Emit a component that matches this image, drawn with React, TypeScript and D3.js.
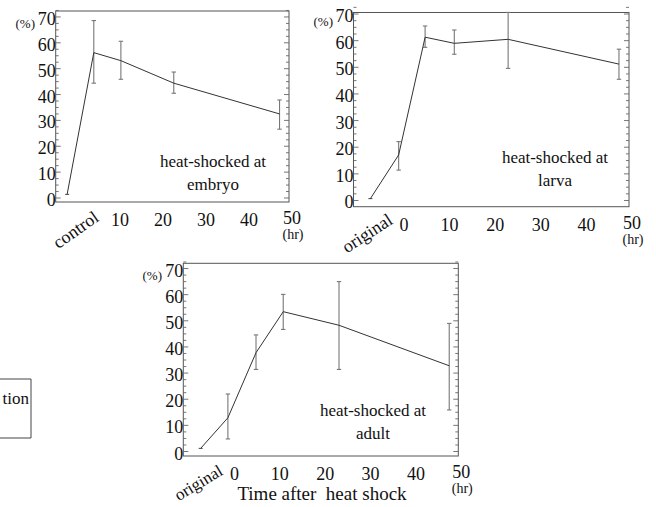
import React from 'react';
import * as d3 from 'd3';

// ---- data ----
const embryoTimes = [-1.6, 4.6, 10.9, 23.2, 47.8];
const embryoMeans = [1.4, 56.2, 53.1, 44.4, 32.5];
const embryoUpper = [NaN, 68.6, 60.6, 48.7, 37.9];
const embryoLower = [NaN, 44.4, 45.9, 40.5, 26.6];

const larvaTimes = [-6.7, -0.5, 5.3, 11.7, 23.5, 47.8];
const larvaMeans = [0.7, 17.1, 61.3, 59.0, 60.5, 51.2];
const larvaUpper = [NaN, 22.1, 65.5, 64.0, 70.6, 56.8];
const larvaLower = [NaN, 11.4, 57.5, 54.9, 49.6, 45.5];

const adultTimes = [-6.8, -0.8, 5.4, 11.4, 23.7, 48.0];
const adultMeans = [1.2, 12.9, 37.8, 53.5, 48.3, 32.8];
const adultUpper = [NaN, 22.0, 44.6, 60.1, 65.0, 49.0];
const adultLower = [NaN, 4.8, 31.4, 46.7, 31.4, 15.9];

const yTickValues = [0, 10, 20, 30, 40, 50, 60, 70];
const embryoXTicks = [10, 20, 30, 40, 50];
const stageXTicks = [0, 10, 20, 30, 40, 50];

const FONT = '"Liberation Serif", "Times New Roman", serif';

type PanelProps = {
  times: number[];
  means: number[];
  upper: number[];
  lower: number[];
  xTicks: number[];
  xDomain: [number, number];
  yDomain: [number, number];
  left: number;
  right: number;
  top: number;
  bottom: number;
  stageLabel: string;
  firstLabel: string;
  firstLabelPos: [number, number];
  firstLabelAngle: number;
  firstLabelSize: number;
  stageText: string;
  stageX: number;
  stageY: number;
  pctX: number;
};

function Panel(p: PanelProps) {
  const x = d3.scaleLinear().domain(p.xDomain).range([p.left, p.right]);
  const y = d3.scaleLinear().domain(p.yDomain).range([p.bottom, p.top]);
  const line = d3
    .line<number>()
    .x((_, i) => x(p.times[i]))
    .y((d) => y(d));
  const minor = d3.range(0, 72.6, 2.5);
  const labelBase = p.bottom + 24;
  return (
    <g fontFamily={FONT} fill="#111">
      <rect
        x={p.left}
        y={p.top}
        width={p.right - p.left}
        height={p.bottom - p.top}
        fill="none"
        stroke="#555"
        strokeWidth={1}
      />
      {minor.map((v) => {
        const major = v % 10 === 0;
        const len = major ? 5 : 3;
        return (
          <g key={'t' + v} stroke="#666" strokeWidth={0.9}>
            <line x1={p.left} x2={p.left + len} y1={y(v)} y2={y(v)} />
            <line x1={p.right} x2={p.right - len} y1={y(v)} y2={y(v)} />
          </g>
        );
      })}
      {yTickValues.map((v) => (
        <text
          key={'y' + v}
          x={p.left}
          y={y(v) + 2}
          textAnchor="end"
          dominantBaseline="central"
          fontSize={18}
        >
          {v}
        </text>
      ))}
      <text
        x={p.pctX}
        y={y(70) + 7}
        textAnchor="end"
        dominantBaseline="central"
        fontSize={13}
      >
        (%)
      </text>
      {p.xTicks.map((v) => (
        <text
          key={'x' + v}
          x={x(v) + 3}
          y={v === 50 ? labelBase - 2 : labelBase}
          textAnchor="middle"
          fontSize={18}
        >
          {v}
        </text>
      ))}
      <text x={x(50) + 4} y={labelBase + 13} textAnchor="middle" fontSize={14}>
        (hr)
      </text>
      <text
        x={p.firstLabelPos[0]}
        y={p.firstLabelPos[1]}
        textAnchor="end"
        fontSize={p.firstLabelSize}
        transform={`rotate(${p.firstLabelAngle} ${p.firstLabelPos[0]} ${p.firstLabelPos[1]})`}
      >
        {p.firstLabel}
      </text>
      <text x={p.stageX} y={p.stageY} textAnchor="middle" fontSize={17}>
        {p.stageText}
      </text>
      <text x={p.stageX} y={p.stageY + 22.5} textAnchor="middle" fontSize={17}>
        {p.stageLabel}
      </text>
      {p.times.map((t, i) =>
        isNaN(p.upper[i]) ? null : (
          <g key={'e' + i} stroke="#777" strokeWidth={1.1} fill="none">
            <line x1={x(t)} x2={x(t)} y1={y(p.upper[i])} y2={y(p.lower[i])} />
            <line x1={x(t) - 2.2} x2={x(t) + 2.2} y1={y(p.upper[i])} y2={y(p.upper[i])} />
            <line x1={x(t) - 2.2} x2={x(t) + 2.2} y1={y(p.lower[i])} y2={y(p.lower[i])} />
          </g>
        )
      )}
      <line
        x1={x(p.times[0]) - 2}
        x2={x(p.times[0]) + 2}
        y1={y(p.means[0])}
        y2={y(p.means[0])}
        stroke="#444"
        strokeWidth={1}
      />
      <path d={line(p.means) || ''} fill="none" stroke="#333" strokeWidth={1} />
    </g>
  );
}

export default function App() {
  return (
    <svg
      width={656}
      height={507}
      style={{ position: 'absolute', left: 0, top: 0, background: '#fff' }}
    >
      <rect x={0} y={0} width={656} height={507} fill="#fff" />
      <Panel
        times={embryoTimes}
        means={embryoMeans}
        upper={embryoUpper}
        lower={embryoLower}
        xTicks={embryoXTicks}
        xDomain={[-4.26, 50]}
        yDomain={[-1.55, 72.3]}
        left={55.7}
        right={289}
        top={11}
        bottom={202}
        stageText="heat-shocked at"
        stageLabel="embryo"
        stageX={213}
        stageY={167}
        firstLabel="control"
        firstLabelPos={[100, 220]}
        firstLabelAngle={-35}
        firstLabelSize={18}
        pctX={35}
      />
      <Panel
        times={larvaTimes}
        means={larvaMeans}
        upper={larvaUpper}
        lower={larvaLower}
        xTicks={stageXTicks}
        xDomain={[-10.4, 50]}
        yDomain={[-2.33, 70.57]}
        left={353.5}
        right={629}
        top={12.5}
        bottom={206.7}
        stageText="heat-shocked at"
        stageLabel="larva"
        stageX={555}
        stageY={163}
        firstLabel="original"
        firstLabelPos={[394, 223]}
        firstLabelAngle={-33}
        firstLabelSize={18}
        pctX={333}
      />
      <Panel
        times={adultTimes}
        means={adultMeans}
        upper={adultUpper}
        lower={adultLower}
        xTicks={stageXTicks}
        xDomain={[-10.63, 50]}
        yDomain={[-1.72, 72.0]}
        left={183.3}
        right={458.3}
        top={263.3}
        bottom={456}
        stageText="heat-shocked at"
        stageLabel="adult"
        stageX={373}
        stageY={416}
        firstLabel="original"
        firstLabelPos={[224, 474]}
        firstLabelAngle={-31}
        firstLabelSize={17}
        pctX={162}
      />
      <text
        x={322}
        y={500}
        textAnchor="middle"
        fontSize={19}
        fontFamily={FONT}
        fill="#111"
        style={{ whiteSpace: 'pre' }}
      >
        {'Time after  heat shock'}
      </text>
      <path d="M0,379 H31 V438 H0" fill="none" stroke="#444" strokeWidth={1} />
      <text x={29} y={404} textAnchor="end" fontSize={17} fontFamily={FONT} fill="#111">
        tion
      </text>
    </svg>
  );
}
